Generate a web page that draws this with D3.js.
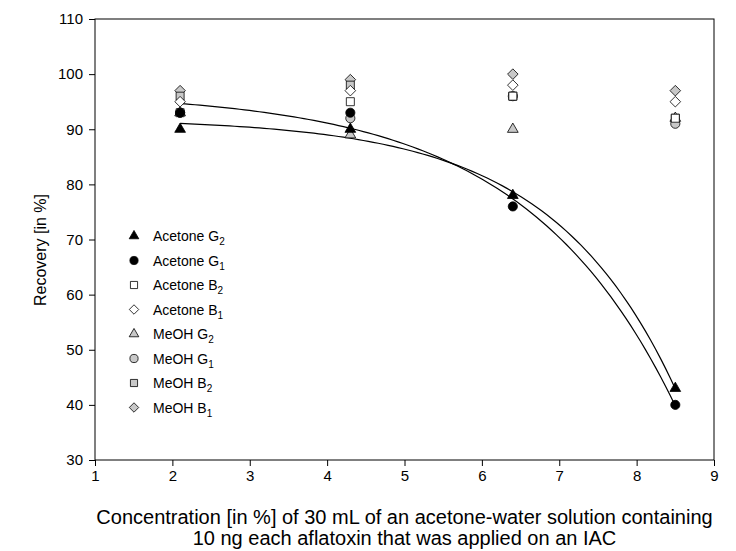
<!DOCTYPE html>
<html>
<head>
<meta charset="utf-8">
<script src="https://cdn.jsdelivr.net/npm/d3@7"></script>
<style>
  html, body { margin: 0; padding: 0; background: #fff; }
  svg { display: block; font-family: "Liberation Sans", Arial, sans-serif; }
</style>
</head>
<body>
<svg id="chart" width="736" height="551"></svg>
<script>
// Acetone concentrations applied to the immunoaffinity column (%)
const concentrations = [2.1, 4.3, 6.4, 8.5];

// Recoveries (%) per series
const acetoneG2 = [90, 90, 78, 43];
const acetoneG1 = [93, 93, 76, 40];
const acetoneB2 = [93, 95, 96, 92];
const acetoneB1 = [95, 97, 98, 95];
const meohG2 = [93, 89, 90, 92];
const meohG1 = [93, 92, 96, 91];
const meohB2 = [96, 98, 96, 92];
const meohB1 = [97, 99, 100, 97];

const xTicks = [1, 2, 3, 4, 5, 6, 7, 8, 9];
const yTicks = [30, 40, 50, 60, 70, 80, 90, 100, 110];

// Square diamond (equal width and height)
const symbolRhomb = {
  draw(context, size) {
    const r = Math.sqrt(size / 2);
    context.moveTo(0, -r);
    context.lineTo(r, 0);
    context.lineTo(0, r);
    context.lineTo(-r, 0);
    context.closePath();
  }
};

// Series: label base, subscript, marker shape and fill
const series = [
  { name: "Acetone G", sub: "2", shape: d3.symbolTriangle, fill: "#000", values: acetoneG2 },
  { name: "Acetone G", sub: "1", shape: d3.symbolCircle, fill: "#000", values: acetoneG1 },
  { name: "Acetone B", sub: "2", shape: d3.symbolSquare, fill: "#fff", values: acetoneB2 },
  { name: "Acetone B", sub: "1", shape: symbolRhomb, fill: "#fff", values: acetoneB1 },
  { name: "MeOH G", sub: "2", shape: d3.symbolTriangle, fill: "#c8c8c8", values: meohG2 },
  { name: "MeOH G", sub: "1", shape: d3.symbolCircle, fill: "#c8c8c8", values: meohG1 },
  { name: "MeOH B", sub: "2", shape: d3.symbolSquare, fill: "#c8c8c8", values: meohB2 },
  { name: "MeOH B", sub: "1", shape: symbolRhomb, fill: "#c8c8c8", values: meohB1 }
];

const svg = d3.select("#chart");
const plot = { left: 95, right: 714, top: 19, bottom: 460 };

const x = d3.scaleLinear().domain([1, 9]).range([plot.left, plot.right]);
const y = d3.scaleLinear().domain([30, 110]).range([plot.bottom, plot.top]);

// Frame
svg.append("rect")
  .attr("x", plot.left).attr("y", plot.top)
  .attr("width", plot.right - plot.left).attr("height", plot.bottom - plot.top)
  .attr("fill", "none").attr("stroke", "#000").attr("stroke-width", 1);

// Axes
const xAxis = svg.append("g")
  .attr("transform", `translate(0,${plot.bottom})`)
  .call(d3.axisBottom(x).tickValues(xTicks).tickSize(6).tickPadding(4).tickFormat(d3.format("d")));
const yAxis = svg.append("g")
  .attr("transform", `translate(${plot.left},0)`)
  .call(d3.axisLeft(y).tickValues(yTicks).tickSize(6).tickPadding(6).tickFormat(d3.format("d")));
[xAxis, yAxis].forEach(g => {
  g.select(".domain").remove();
  g.selectAll("text").attr("font-size", 15).attr("fill", "#000")
    .attr("font-family", "Liberation Sans, Arial, sans-serif");
  g.selectAll("line").attr("stroke", "#000");
});

// Axis titles
svg.append("text")
  .attr("transform", `translate(46,250) rotate(-90)`)
  .attr("text-anchor", "middle").attr("font-size", 16)
  .text("Recovery [in %]");
const xt = svg.append("text").attr("text-anchor", "middle").attr("font-size", 20);
xt.append("tspan").attr("x", (plot.left + plot.right) / 2).attr("y", 524)
  .text("Concentration [in %] of 30 mL of an acetone-water solution containing");
xt.append("tspan").attr("x", (plot.left + plot.right) / 2).attr("y", 545)
  .text("10 ng each aflatoxin that was applied on an IAC");

// Exponential fit y = y0 + a·e^(b·x) by least squares (grid over b)
function fitExp(xs, ys) {
  let best = null;
  for (let b = 0.01; b <= 3; b += 0.001) {
    const e = xs.map(v => Math.exp(b * v));
    const n = xs.length;
    const me = d3.mean(e), my = d3.mean(ys);
    let sxy = 0, sxx = 0;
    for (let i = 0; i < n; i++) { sxy += (e[i] - me) * (ys[i] - my); sxx += (e[i] - me) ** 2; }
    const a = sxy / sxx, y0 = my - a * me;
    let sse = 0;
    for (let i = 0; i < n; i++) sse += (ys[i] - (y0 + a * e[i])) ** 2;
    if (!best || sse < best.sse) best = { a, b, y0, sse };
  }
  return v => best.y0 + best.a * Math.exp(best.b * v);
}

const line = d3.line().x(d => x(d[0])).y(d => y(d[1]));
[acetoneG2, acetoneG1].forEach(vals => {
  const f = fitExp(concentrations, vals);
  const pts = d3.range(0, 101).map(i => {
    const xv = concentrations[0] + (concentrations[3] - concentrations[0]) * i / 100;
    return [xv, f(xv)];
  });
  svg.append("path").attr("d", line(pts))
    .attr("fill", "none").attr("stroke", "#000").attr("stroke-width", 1.2);
});

// Marker sizes by shape
function symSize(shape) {
  if (shape === d3.symbolTriangle) return 50;
  if (shape === d3.symbolCircle) return 66;
  if (shape === d3.symbolSquare) return 64;
  return 56;
}

// Data markers, drawn last series first so acetone sits on top
series.slice().reverse().forEach(s => {
  svg.append("g").selectAll("path")
    .data(s.values.map((v, i) => [concentrations[i], v]))
    .join("path")
    .attr("transform", d => `translate(${x(d[0])},${y(d[1])})`)
    .attr("d", d3.symbol().type(s.shape).size(symSize(s.shape)))
    .attr("fill", s.fill).attr("stroke", "#000").attr("stroke-width", 0.8);
});

// Legend
const legend = svg.append("g");
series.forEach((s, i) => {
  const ly = 236 + i * 24.5;
  legend.append("path")
    .attr("transform", `translate(134,${ly})`)
    .attr("d", d3.symbol().type(s.shape).size(symSize(s.shape) * 0.8))
    .attr("fill", s.fill).attr("stroke", "#000").attr("stroke-width", 0.8);
  const t = legend.append("text").attr("x", 153).attr("y", ly + 5).attr("font-size", 14);
  t.append("tspan").text(s.name);
  t.append("tspan").attr("dy", 4).attr("font-size", 10).text(s.sub);
});
</script>
</body>
</html>
